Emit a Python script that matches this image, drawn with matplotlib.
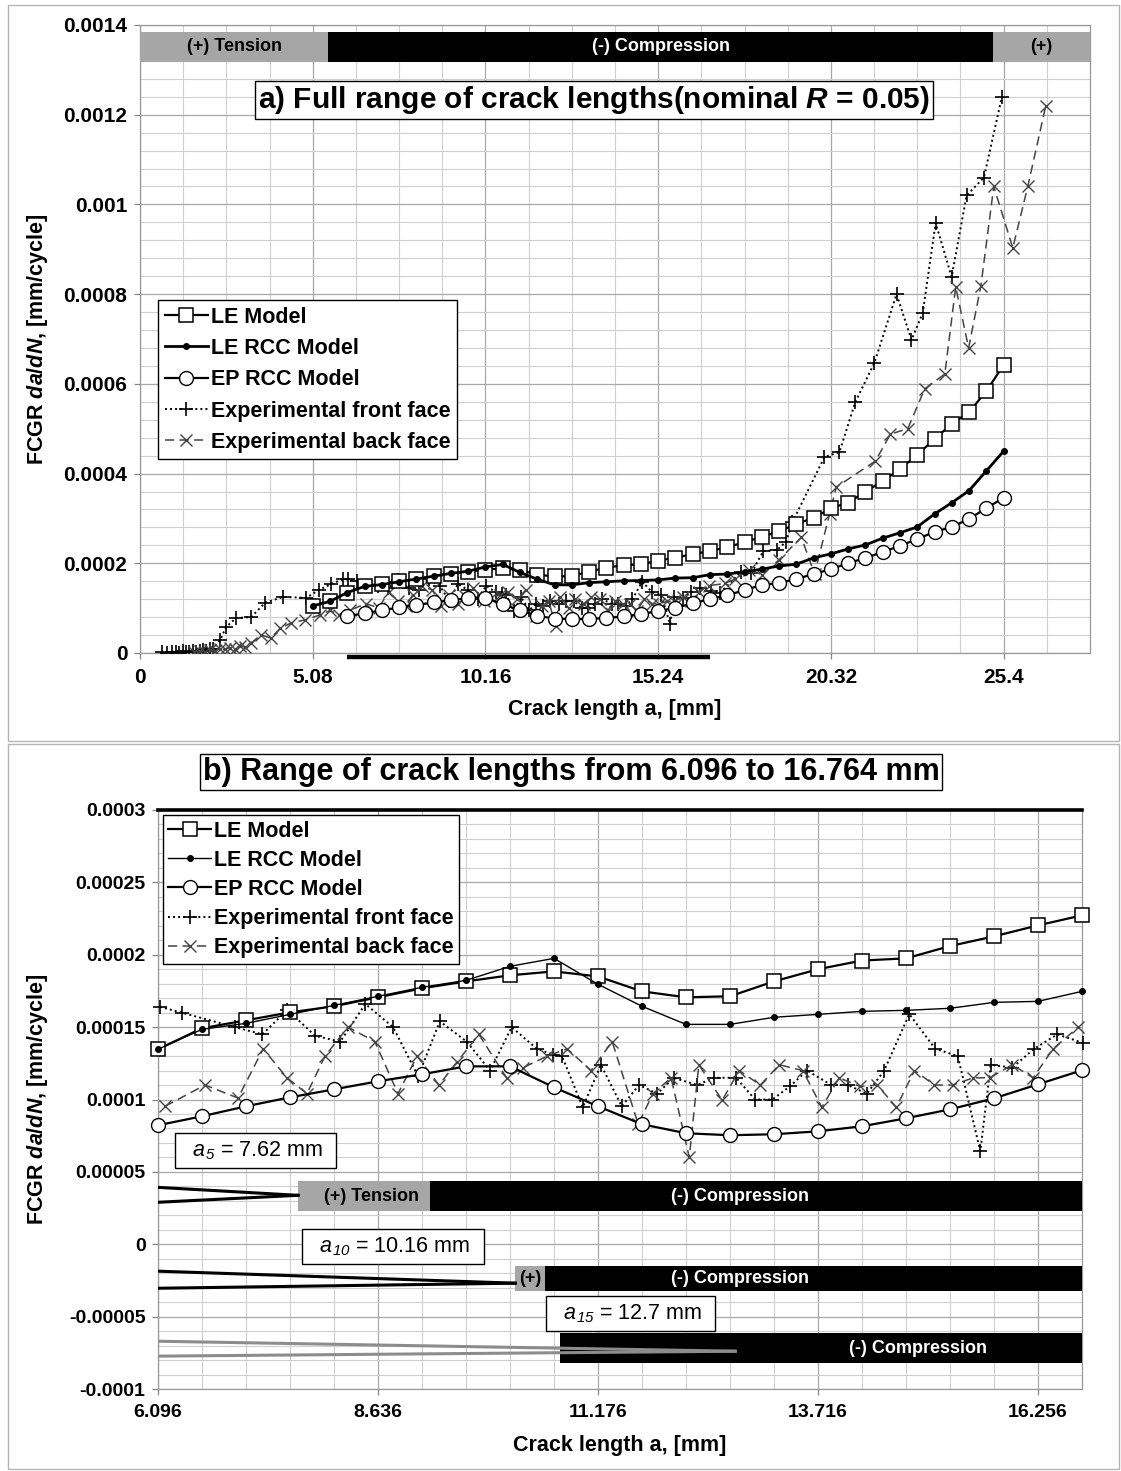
import matplotlib
matplotlib.use("Agg")
import matplotlib.pyplot as plt
import matplotlib.ticker as mticker
from matplotlib.patches import Rectangle
import numpy as np

# ---- model curves (crack length a in mm, FCGR in 1e-4 mm/cycle) ----
model_x = [5.08, 5.588, 6.096, 6.604, 7.112, 7.62, 8.128, 8.636, 9.144, 9.652,
           10.16, 10.668, 11.176, 11.684, 12.192, 12.7, 13.208, 13.716, 14.224, 14.732,
           15.24, 15.748, 16.256, 16.764, 17.272, 17.78, 18.288, 18.796, 19.304, 19.812,
           20.32, 20.828, 21.336, 21.844, 22.352, 22.86, 23.368, 23.876, 24.384, 24.892, 25.4]
le_model = [1.05, 1.15, 1.347, 1.492, 1.547, 1.602, 1.644, 1.706, 1.768, 1.816,
            1.858, 1.885, 1.85, 1.747, 1.706, 1.713, 1.816, 1.90, 1.96, 1.975,
            2.06, 2.127, 2.203, 2.272, 2.36, 2.47, 2.59, 2.71, 2.88, 3.01,
            3.23, 3.35, 3.60, 3.83, 4.10, 4.42, 4.77, 5.11, 5.37, 5.84, 6.42]
le_rcc = [1.05, 1.15, 1.347, 1.485, 1.526, 1.588, 1.65, 1.713, 1.775, 1.823,
          1.92, 1.975, 1.796, 1.644, 1.519, 1.519, 1.568, 1.588, 1.609, 1.616,
          1.63, 1.671, 1.678, 1.747, 1.76, 1.81, 1.87, 1.94, 1.98, 2.12,
          2.21, 2.32, 2.41, 2.56, 2.68, 2.81, 3.10, 3.35, 3.62, 4.06, 4.50]
ep_x = model_x[2:]
ep_rcc = [0.822, 0.884, 0.953, 1.015, 1.07, 1.126, 1.174, 1.229, 1.229, 1.084,
          0.953, 0.829, 0.767, 0.753, 0.76, 0.78, 0.815, 0.87, 0.932, 1.008,
          1.105, 1.202, 1.29, 1.40, 1.52, 1.56, 1.65, 1.76, 1.87, 2.00,
          2.12, 2.25, 2.39, 2.54, 2.70, 2.81, 2.99, 3.23, 3.46]

# ---- experimental data (FCGR in 1e-6 mm/cycle) ----
front_x = [0.65, 0.8, 0.95, 1.05, 1.15, 1.25, 1.35, 1.45, 1.55, 1.65, 1.75, 1.85, 1.95, 2.05, 2.15,
           2.36, 2.53, 2.83, 3.27, 3.68, 4.21, 4.89, 5.25, 5.63, 5.98,
           6.12, 6.37, 6.985, 7.30, 7.59, 7.91, 8.2, 8.49, 8.81, 9.1,
           9.35, 9.66, 9.93, 10.18, 10.47, 10.66, 10.76, 11.0, 11.21, 11.45,
           11.65, 11.86, 12.05, 12.32, 12.52, 12.77, 12.99, 13.19, 13.39, 13.59,
           13.87, 14.06, 14.28, 14.48, 14.77, 15.07, 15.33, 15.59, 15.71, 15.96,
           16.21, 16.48, 16.78,
           17.06, 17.68, 17.98, 18.33, 18.74, 19.0, 19.19, 20.13, 20.57, 21.04,
           21.6, 22.25, 22.69, 23.02, 23.4, 23.87, 24.31, 24.82, 25.35]
front_y = [2, 1, 3, 2, 1, 4, 2, 3, 5, 3, 4, 6, 5, 8, 10,
           29, 58, 78, 80, 112, 125, 123, 140, 154, 165,
           164, 160, 150, 145, 162, 144, 140, 166, 150, 116,
           154, 140, 120, 150, 135, 131, 130, 94.6, 124, 95.3,
           110, 104, 115, 110, 115, 115, 100, 100, 109, 120,
           110, 110, 104, 120, 159, 135, 130, 64.2, 124, 122,
           135, 145, 139,
           134, 181, 178, 227, 230, 248, 292, 437, 448, 560,
           647, 800, 698, 758, 959, 838, 1020, 1060, 1240]
back_x = [1.6, 1.75, 1.9, 2.05, 2.2, 2.35, 2.5, 2.65, 2.8, 2.95,
          3.1, 3.27, 3.57, 3.86, 4.13, 4.45, 4.86, 5.3, 5.6, 5.84,
          6.177, 6.639, 7.02, 7.31, 7.585, 7.816, 8.024, 8.29, 8.6, 8.867,
          9.087, 9.34, 9.55, 9.8, 10.12, 10.31, 10.59, 10.82, 11.096, 11.34,
          11.64, 11.81, 12.02, 12.23, 12.34, 12.61, 12.806, 13.05, 13.27, 13.54,
          13.76, 13.96, 14.2, 14.4, 14.62, 14.83, 15.06, 15.27, 15.51, 15.7,
          15.96, 16.2, 16.43, 16.72,
          17.2, 17.5, 17.9, 18.3, 18.8, 19.45, 19.84, 20.28, 20.48, 21.63,
          22.07, 22.58, 23.08, 23.67, 23.99, 24.37, 24.73, 25.11, 25.67, 26.11, 26.64]
back_y = [2, 4, 3, 6, 5, 9, 8, 12, 10, 15,
          13, 22, 40, 33, 56, 67, 74, 85, 95, 85,
          95.3, 110, 101, 135, 115, 104, 130, 150, 140, 104,
          130, 110, 126, 145, 115, 122, 130, 135, 120, 140,
          82.9, 104, 115, 60, 124, 99.5, 120, 110, 124, 120,
          94.6, 115, 109, 110, 94.6, 120, 110, 110, 115, 115,
          124, 115, 135, 150,
          155, 165, 185, 175, 208, 258, 176, 310, 370, 428,
          488, 500, 589, 622, 816, 680, 818, 1040, 903, 1040, 1220]

# ---- load state bands (crack length limits, mm) ----
top_band_edges = [0.0, 5.54, 25.08, 27.94]
top_band_labels = ["(+) Tension", "(-) Compression", "(+)"]
zoom_range = [6.096, 16.764]
a_steps = [r"  $\mathsf{a_{5}}$ = 7.62 mm  ", r"  $\mathsf{a_{10}}$ = 10.16 mm  ",
           r"  $\mathsf{a_{15}}$ = 12.7 mm  "]
a_tension = [7.713, 10.22, 12.76]        # where the (+) zone starts / crack tip
a_compress = [9.237, 10.565, 10.738]     # where the (-) zone starts
band_y = [3.32e-5, -2.39e-5, -7.19e-5]
band_h = [2.07e-5, 1.73e-5, 2.07e-5]
tip_y = [3.38e-5, -2.69e-5, -7.39e-5]
wedge_top = [3.93e-5, -1.86e-5, -6.7e-5]
wedge_bot = [2.9e-5, -3.04e-5, -7.73e-5]

top_xticks = [0, 5.08, 10.16, 15.24, 20.32, 25.4]
top_xlabels = ["0", "5.08", "10.16", "15.24", "20.32", "25.4"]
bot_xticks = [6.096, 8.636, 11.176, 13.716, 16.256]
bot_xlabels = ["6.096", "8.636", "11.176", "13.716", "16.256"]

plt.rcParams.update({
    "font.family": ["Liberation Sans", "DejaVu Sans"],
    "font.weight": "bold",
    "mathtext.fontset": "custom",
    "mathtext.rm": "Liberation Sans:bold",
    "mathtext.it": "Liberation Sans:italic:bold",
    "mathtext.bf": "Liberation Sans:bold",
    "mathtext.sf": "Liberation Sans:style=italic:weight=normal",
})

GRAY = "#a6a6a6"


def yfmt(v, pos):
    s = f"{v:.5f}".rstrip("0").rstrip(".")
    return "0" if s in ("-0", "0", "") else s


def style_axes(ax, xlim, ylim, xticks, xlabels, xminor, ymajor, yminor, ytick_fs, xtick_fs):
    ax.set_xlim(*xlim)
    ax.set_ylim(*ylim)
    ax.set_xticks(xticks, xlabels)
    ax.xaxis.set_minor_locator(mticker.MultipleLocator(xminor))
    ax.yaxis.set_major_locator(mticker.MultipleLocator(ymajor))
    ax.yaxis.set_minor_locator(mticker.MultipleLocator(yminor))
    ax.yaxis.set_major_formatter(mticker.FuncFormatter(yfmt))
    ax.grid(which="major", color="#a8a8a8", linewidth=0.9, zorder=0)
    ax.grid(which="minor", color="#cfcfcf", linewidth=0.8, zorder=0)
    ax.set_axisbelow(True)
    ax.tick_params(which="major", length=4, width=0.9, color="#888888", pad=5)
    ax.tick_params(axis="y", labelsize=ytick_fs)
    ax.tick_params(axis="x", labelsize=xtick_fs, pad=7)
    ax.tick_params(which="minor", length=0)
    for sp in ax.spines.values():
        sp.set_color("#999999")
        sp.set_linewidth(0.9)
    ax.set_xlabel("Crack length a, [mm]", fontsize=15.5, fontweight="bold")
    ax.set_ylabel("FCGR $da/dN$, [mm/cycle]", fontsize=15.5, fontweight="bold")


def plot_all(ax, lo, hi, rcc_lw, clip):
    def sel(xs, ys, scale):
        xs = np.asarray(xs)
        ys = np.asarray(ys) * scale
        m = (xs >= lo) & (xs <= hi)
        return xs[m], ys[m]

    x, y = sel(model_x, le_model, 1e-4)
    ax.plot(x, y, "-", color="black", lw=1.6, marker="s", ms=10, mfc="white", mec="black",
            mew=1.1, label="LE Model", zorder=5, clip_on=clip)
    x, y = sel(model_x, le_rcc, 1e-4)
    ax.plot(x, y, "-", color="black", lw=rcc_lw, marker="o", ms=4, mfc="black", mec="black",
            label="LE RCC Model", zorder=6, clip_on=clip)
    x, y = sel(ep_x, ep_rcc, 1e-4)
    ax.plot(x, y, "-", color="black", lw=1.6, marker="o", ms=10, mfc="white", mec="black",
            mew=1.0, label="EP RCC Model", zorder=5, clip_on=clip)
    x, y = sel(front_x, front_y, 1e-6)
    ax.plot(x, y, color="black", lw=1.4, ls=(0, (1, 1.6)), marker="+", ms=10, mew=1.2,
            label="Experimental front face", zorder=4, clip_on=clip)
    x, y = sel(back_x, back_y, 1e-6)
    ax.plot(x, y, color="#444444", lw=1.1, ls=(0, (6, 3.5)), marker="x", ms=9, mew=1.0,
            label="Experimental back face", zorder=4, clip_on=clip)


fig = plt.figure(figsize=(11.21, 14.71), dpi=100)

# panel frames
fig.add_artist(Rectangle((8 / 1121, 1 - 741 / 1471), 1111 / 1121, 736 / 1471,
                         transform=fig.transFigure, fill=False, ec="#b5b5b5", lw=1))
fig.add_artist(Rectangle((8 / 1121, 1 - 1469 / 1471), 1111 / 1121, 725 / 1471,
                         transform=fig.transFigure, fill=False, ec="#b5b5b5", lw=1))

# ---------------- a) full range ----------------
ax1 = fig.add_axes([140 / 1121, 1 - 653 / 1471, 950 / 1121, 628 / 1471])
style_axes(ax1, (0, 27.94), (0, 0.0014), top_xticks, top_xlabels, 1.27, 0.0002, 0.00004, 15, 15)
plot_all(ax1, 0, 30, 2.0, True)

band_colors = [GRAY, "black", GRAY]
text_colors = ["black", "white", "black"]
for i, lab in enumerate(top_band_labels):
    left, right = top_band_edges[i], top_band_edges[i + 1]
    ax1.barh(0.0013515, right - left, left=left, height=0.000067, color=band_colors[i],
             zorder=7, clip_on=False)
    ax1.text((left + right) / 2, 0.0013515, lab, color=text_colors[i], ha="center",
             va="center", fontsize=13, fontweight="bold", zorder=8)

ax1.text(13.35, 0.001233, "a) Full range of crack lengths(nominal $R$ = 0.05)", ha="center",
         va="center", fontsize=21.5, fontweight="bold", zorder=8,
         bbox=dict(boxstyle="square,pad=0.1", fc="white", ec="black", lw=1))
ax1.plot(zoom_range, [-0.0000085, -0.0000085], color="black", lw=3.2, clip_on=False,
         solid_capstyle="butt", zorder=9)
ax1.xaxis.set_label_coords(0.5, -0.073)
ax1.yaxis.set_label_coords(-0.095, 0.5)
leg1 = ax1.legend(loc="upper left", bbox_to_anchor=(0.019, 0.562), fontsize=15.5,
                  frameon=True, fancybox=False, edgecolor="black", framealpha=1,
                  handlelength=2.0, handletextpad=0.15, labelspacing=0.48, borderpad=0.3,
                  borderaxespad=0)
leg1.get_frame().set_linewidth(1.0)
leg1.set_zorder(10)

# ---------------- b) zoomed range ----------------
ax2 = fig.add_axes([158 / 1121, 1 - 1389 / 1471, 924 / 1121, 579 / 1471])
style_axes(ax2, zoom_range, (-0.0001, 0.0003), bot_xticks, bot_xlabels, 0.508, 0.00005,
           0.00001, 14, 14)
ax2.spines["top"].set_color("black")
ax2.spines["top"].set_linewidth(2.6)
plot_all(ax2, zoom_range[0] - 0.01, zoom_range[1] + 0.03, 1.0, False)

box_pos = [(7.22, 6.49e-5), (8.81, -0.14e-5), (11.55, -4.77e-5)]
for i in range(3):
    y0 = band_y[i]
    lc = "black" if i < 2 else "#8c8c8c"
    tip = a_tension[i]
    if i < 2:
        ax2.barh(y0, a_compress[i] - tip, left=tip, height=band_h[i], color=GRAY, zorder=7)
    ax2.barh(y0, zoom_range[1] - a_compress[i], left=a_compress[i], height=band_h[i],
             color="black", zorder=7)
    ax2.plot([zoom_range[0], tip], [wedge_top[i], tip_y[i]], color=lc, lw=2.2, zorder=8)
    ax2.plot([zoom_range[0], tip], [wedge_bot[i], tip_y[i]], color=lc, lw=2.2, zorder=8)
    bx, by = box_pos[i]
    ax2.text(bx, by, a_steps[i], ha="center", va="center", fontsize=15.5, fontweight="normal",
             zorder=9, bbox=dict(boxstyle="square,pad=0.28", fc="white", ec="black", lw=1))

ax2.text(8.56, band_y[0], "(+) Tension", ha="center", va="center", fontsize=13,
         fontweight="bold", color="black", zorder=9)
ax2.text(12.82, band_y[0], "(-) Compression", ha="center", va="center", fontsize=13,
         fontweight="bold", color="white", zorder=9)
ax2.text(10.39, band_y[1], "(+)", ha="center", va="center", fontsize=13,
         fontweight="bold", color="black", zorder=9)
ax2.text(12.82, band_y[1], "(-) Compression", ha="center", va="center", fontsize=13,
         fontweight="bold", color="white", zorder=9)
ax2.text(14.87, band_y[2], "(-) Compression", ha="center", va="center", fontsize=13,
         fontweight="bold", color="white", zorder=9)

fig.text(571 / 1121, 1 - 772 / 1471, "b) Range of crack lengths from 6.096 to 16.764 mm",
         ha="center", va="center", fontsize=22, fontweight="bold",
         bbox=dict(boxstyle="square,pad=0.1", fc="white", ec="black", lw=1))
ax2.xaxis.set_label_coords(0.5, -0.079)
ax2.yaxis.set_label_coords(-0.117, 0.5)
leg2 = ax2.legend(loc="upper left", bbox_to_anchor=(0.005, 0.991), fontsize=15.5,
                  frameon=True, fancybox=False, edgecolor="black", framealpha=1,
                  handlelength=2.0, handletextpad=0.15, labelspacing=0.38, borderpad=0.25,
                  borderaxespad=0)
leg2.get_frame().set_linewidth(1.0)
leg2.set_zorder(10)

fig.savefig("out.png", dpi=100)
